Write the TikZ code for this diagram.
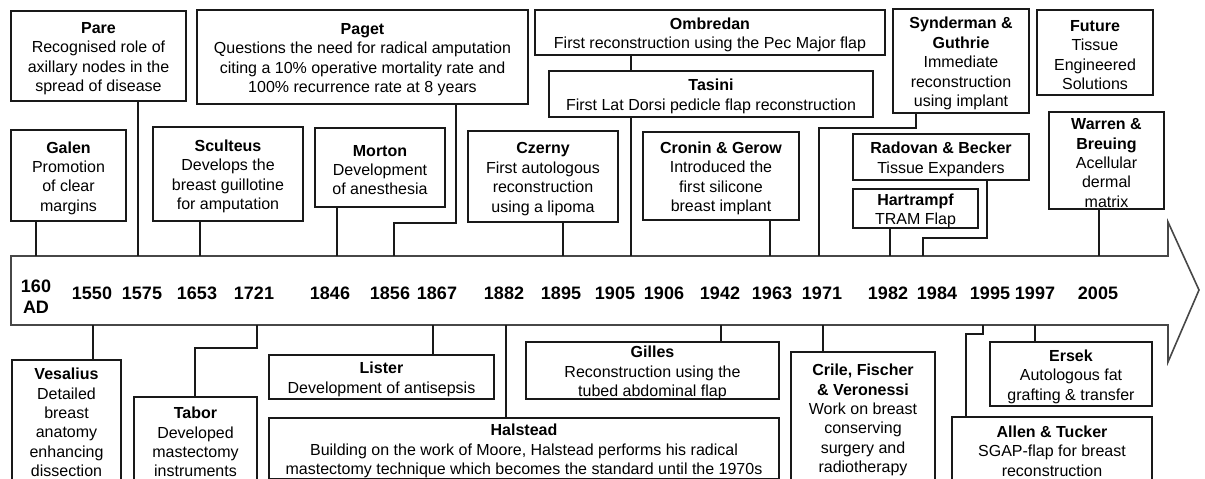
\documentclass[tikz,border=0pt]{standalone}
\usepackage{fontspec}
\setmainfont{Liberation Sans}
\begin{document}
\begin{tikzpicture}[x=1pt,y=-1pt,
  box/.style={draw=black!90,line width=1.6pt,fill=white,inner sep=0pt,outer sep=0pt},
  txt/.style={inner sep=0pt,align=center,text=black,font=\fontsize{16}{19.4}\selectfont},
  conn/.style={draw=black!90,line width=1.6pt},
  axisline/.style={draw=black!72,line width=1.6pt},
  yr/.style={font=\fontsize{18}{21}\selectfont\bfseries,text=black,inner sep=0pt,align=center}]
\useasboundingbox (0,0) rectangle (1205,479);
\clip (0,0) rectangle (1205,479);
\newcommand\mybox[6]{\node[box,minimum width={(#4-#2)*1pt},minimum height={(#5-#3)*1pt}] (#1) at ({(#2+#4)/2},{(#3+#5)/2}) {};
  \node[txt] (#1-t) at ([yshift=-2.5pt]#1.center) {#6};}
% axis
\draw[axisline,line join=miter] (11,256) -- (1168,256) -- (1168,222) -- (1199,290) -- (1168,362) -- (1168,325) -- (11,325) -- cycle;
% years
\node[yr] (y160) at (36,297) {160\\AD};
\node[yr] (y1550) at (92,293) {1550};
\node[yr] (y1575) at (142,293) {1575};
\node[yr] (y1653) at (197,293) {1653};
\node[yr] (y1721) at (254,293) {1721};
\node[yr] (y1846) at (330,293) {1846};
\node[yr] (y1856) at (390,293) {1856};
\node[yr] (y1867) at (437,293) {1867};
\node[yr] (y1882) at (504,293) {1882};
\node[yr] (y1895) at (561,293) {1895};
\node[yr] (y1905) at (615,293) {1905};
\node[yr] (y1906) at (664,293) {1906};
\node[yr] (y1942) at (720,293) {1942};
\node[yr] (y1963) at (772,293) {1963};
\node[yr] (y1971) at (822,293) {1971};
\node[yr] (y1982) at (888,293) {1982};
\node[yr] (y1984) at (937,293) {1984};
\node[yr] (y1995) at (990,293) {1995};
\node[yr] (y1997) at (1035,293) {1997};
\node[yr] (y2005) at (1098,293) {2005};
% top boxes
\mybox{pare}{11}{11}{186}{101}{\textbf{Pare}\\Recognised role of\\axillary nodes in the\\spread of disease}
\mybox{paget}{197}{10}{528}{104}{\textbf{Paget}\\Questions the need for radical amputation\\citing a 10\% operative mortality rate and\\100\% recurrence rate at 8 years}
\mybox{galen}{11}{130}{126}{221}{\textbf{Galen}\\Promotion\\of clear\\margins}
\mybox{sculteus}{153}{127}{303}{221}{\textbf{Sculteus}\\Develops the\\breast guillotine\\for amputation}
\mybox{morton}{315}{128}{445}{207}{\textbf{Morton}\\Development\\of anesthesia}
\mybox{czerny}{468}{131}{618}{222}{\textbf{Czerny}\\First autologous\\reconstruction\\using a lipoma}
\mybox{ombredan}{535}{10}{885}{55}{\textbf{Ombredan}\\First reconstruction using the Pec Major flap}
\mybox{tasini}{549}{71}{873}{117}{\textbf{Tasini}\\First Lat Dorsi pedicle flap reconstruction}
\mybox{cronin}{643}{132}{799}{220}{\textbf{Cronin \& Gerow}\\Introduced the\\first silicone\\breast implant}
\mybox{synderman}{893}{9}{1029}{113}{\textbf{Synderman \&}\\\textbf{Guthrie}\\Immediate\\reconstruction\\using implant}
\mybox{future}{1037}{10}{1153}{95}{\textbf{Future}\\Tissue\\Engineered\\Solutions}
\mybox{radovan}{853}{134}{1029}{180}{\textbf{Radovan \& Becker}\\Tissue Expanders}
\mybox{hartrampf}{853}{189}{978}{228}{\textbf{Hartrampf}\\TRAM Flap}
\mybox{warren}{1049}{112}{1164}{209}{\textbf{Warren \&}\\\textbf{Breuing}\\Acellular\\dermal\\matrix}
% bottom boxes
\mybox{vesalius}{12}{360}{121}{480}{\textbf{Vesalius}\\Detailed\\breast\\anatomy\\enhancing\\dissection}
\mybox{tabor}{134}{397}{257}{482}{\textbf{Tabor}\\Developed\\mastectomy\\instruments}
\mybox{lister}{269}{355}{494}{399}{\textbf{Lister}\\Development of antisepsis}
\mybox{halstead}{269}{418}{779}{479}{\textbf{Halstead}\\Building on the work of Moore, Halstead performs his radical\\mastectomy technique which becomes the standard until the 1970s}
\mybox{gilles}{526}{342}{779}{399}{\textbf{Gilles}\\Reconstruction using the\\tubed abdominal flap}
\mybox{crile}{791}{352}{935}{483}{\textbf{Crile, Fischer}\\\textbf{\& Veronessi}\\Work on breast\\conserving\\surgery and\\radiotherapy}
\mybox{ersek}{990}{342}{1152}{406}{\textbf{Ersek}\\Autologous fat\\grafting \& transfer}
\mybox{allen}{952}{417}{1152}{480}{\textbf{Allen \& Tucker}\\SGAP-flap for breast\\reconstruction}
% tick coordinates (top side)
\coordinate (kGalen) at (36,256);
\coordinate (kPare) at (138,256);
\coordinate (kSculteus) at (200,256);
\coordinate (kMorton) at (337,256);
\coordinate (kPaget) at (394,256);
\coordinate (ePaget) at (456,223);
\coordinate (kCzerny) at (563,256);
\coordinate (kTasini) at (631,256);
\coordinate (kCronin) at (770,256);
\coordinate (kSynderman) at (819,256);
\coordinate (eSynderman) at (916,128);
\coordinate (kHartrampf) at (890,256);
\coordinate (kRadovan) at (923,256);
\coordinate (eRadovan) at (987,238);
\coordinate (kWarren) at (1099,256);
% tick coordinates (bottom side)
\coordinate (kVesalius) at (93,325);
\coordinate (kTabor) at (257,325);
\coordinate (eTabor) at (195,348);
\coordinate (kLister) at (433,325);
\coordinate (kHalstead) at (506,325);
\coordinate (kGilles) at (721,325);
\coordinate (kCrile) at (823,325);
\coordinate (kAllen) at (983,325);
\coordinate (eAllen) at (966,334);
\coordinate (kErsek) at (1035,325);
% connectors top
\draw[conn] (kGalen |- galen.south) -- (kGalen);
\draw[conn] (kPare |- pare.south) -- (kPare);
\draw[conn] (kSculteus |- sculteus.south) -- (kSculteus);
\draw[conn] (kMorton |- morton.south) -- (kMorton);
\draw[conn] (ePaget |- paget.south) -- (ePaget) -- (kPaget |- ePaget) -- (kPaget);
\draw[conn] (kCzerny |- czerny.south) -- (kCzerny);
\draw[conn] (kTasini |- ombredan.south) -- (kTasini |- tasini.north);
\draw[conn] (kTasini |- tasini.south) -- (kTasini);
\draw[conn] (kCronin |- cronin.south) -- (kCronin);
\draw[conn] (eSynderman |- synderman.south) -- (eSynderman) -- (kSynderman |- eSynderman) -- (kSynderman);
\draw[conn] (kHartrampf |- hartrampf.south) -- (kHartrampf);
\draw[conn] (eRadovan |- radovan.south) -- (eRadovan) -- (kRadovan |- eRadovan) -- (kRadovan);
\draw[conn] (kWarren |- warren.south) -- (kWarren);
% connectors bottom
\draw[conn] (kVesalius) -- (kVesalius |- vesalius.north);
\draw[conn] (kTabor) -- (kTabor |- eTabor) -- (eTabor) -- (eTabor |- tabor.north);
\draw[conn] (kLister) -- (kLister |- lister.north);
\draw[conn] (kHalstead) -- (kHalstead |- halstead.north);
\draw[conn] (kGilles) -- (kGilles |- gilles.north);
\draw[conn] (kCrile) -- (kCrile |- crile.north);
\draw[conn] (kAllen) -- (kAllen |- eAllen) -- (eAllen) -- (eAllen |- allen.north);
\draw[conn] (kErsek) -- (kErsek |- ersek.north);
\end{tikzpicture}
\end{document}
